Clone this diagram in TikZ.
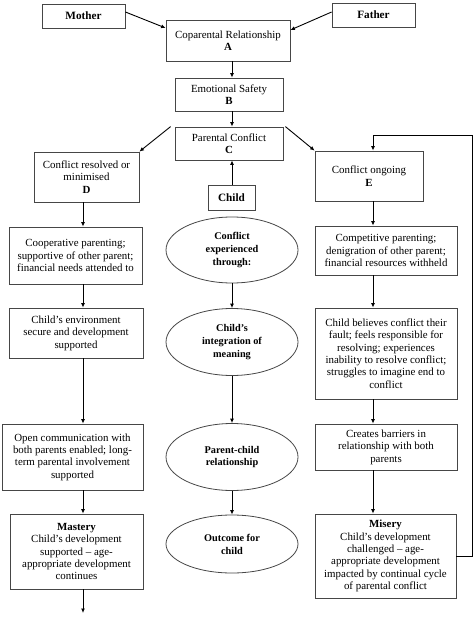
\documentclass[tikz,border=0pt]{standalone}
\usepackage{fontspec}
\setmainfont{Liberation Serif}
\usepackage{tikz}
\usetikzlibrary{arrows.meta,calc,shapes.geometric}
\definecolor{boxline}{RGB}{70,70,70}

\begin{document}
\begin{tikzpicture}[
      x=1pt, y=-1pt,
      font=\fontsize{10.9}{12.4}\selectfont,
      box/.style={draw=boxline, line width=0.8pt, align=center, fill=white,
        inner sep=0pt},
      tag/.style={box, font=\fontsize{11.2}{12.4}\selectfont\bfseries},
      oval/.style={ellipse, draw=boxline, line width=0.8pt, align=center,
        inner sep=0pt, font=\fontsize{10.3}{12.9}\selectfont\bfseries},
      arr/.style={-{Latex[length=4.5pt,width=4pt]}, line width=0.9pt}
    ]
    \useasboundingbox (0,0) rectangle (474,617);
    \coordinate (lcol) at (83,0);
    \coordinate (ccol) at (232,0);
    \coordinate (rcol) at (373,0);

    % parents and top chain
    \node[tag, minimum width=83pt, minimum height=24pt] (mother) at (83.5,16) {Mother};
    \node[tag, minimum width=83pt, minimum height=24pt] (father) at (373.5,15) {Father};
    \node[box, minimum width=124pt, minimum height=41pt] (coparent) at (228,40.5)
      {Coparental Relationship\\\textbf{A}};
    \node[box, minimum width=108pt, minimum height=33pt] (safety) at (229,94.5)
      {Emotional Safety\\\textbf{B}};
    \node[box, minimum width=108pt, minimum height=33pt] (conflict) at (229,143.5)
      {Parental Conflict\\\textbf{C}};
    \draw[arr] ([yshift=4pt]mother.east) -- ([yshift=12.5pt]coparent.west);
    \draw[arr] ([yshift=3pt]father.west) -- ([yshift=10.5pt]coparent.east);
    \draw[arr] (coparent.south -| ccol) -- (safety.north -| ccol);
    \draw[arr] (safety.south -| ccol) -- (conflict.north -| ccol);

    % branches
    \node[box, minimum width=105pt, minimum height=50pt] (resolved) at (86.5,177)
      {Conflict resolved or\\minimised\\\textbf{D}};
    \node[box, minimum width=108pt, minimum height=50pt] (ongoing) at (369,176)
      {Conflict ongoing\\\textbf{E}};
    \node[tag, minimum width=47pt, minimum height=25pt] (child) at (231.5,197.5) {Child};
    \draw[arr] ([xshift=-4pt]conflict.north west) -- (resolved.north east);
    \draw[arr] ([xshift=2pt]conflict.north east) -- (ongoing.north west);
    \draw[arr] (child.north -| ccol) -- (conflict.south -| ccol);

    % left column
    \node[box, minimum width=133pt, minimum height=57pt] (coop) at (75.5,255.5)
      {Cooperative parenting;\\supportive of other parent;\\financial needs attended to};
    \node[box, minimum width=134pt, minimum height=50pt] (secure) at (76,333)
      {Child’s environment\\secure and development\\supported};
    \node[box, minimum width=141pt, minimum height=66pt] (opencomm) at (72.5,457)
      {Open communication with\\both parents enabled; long-\\term parental involvement\\supported};
    \node[box, minimum width=133pt, minimum height=75pt] (mastery) at (76.5,551.5)
      {\textbf{Mastery}\\Child’s development\\supported -- age-\\appropriate development\\continues};
    \coordinate (lend) at (83,613);
    \draw[arr] (resolved.south -| lcol) -- (coop.north -| lcol);
    \draw[arr] (coop.south -| lcol) -- (secure.north -| lcol);
    \draw[arr] (secure.south -| lcol) -- (opencomm.north -| lcol);
    \draw[arr] (opencomm.south -| lcol) -- (mastery.north -| lcol);
    \draw[arr] (mastery.south -| lcol) -- (lend);

    % centre column
    \node[oval, minimum width=132pt, minimum height=66pt] (experienced) at (232,250)
      {Conflict\\experienced\\through:};
    \node[oval, minimum width=132pt, minimum height=67pt] (meaning) at (232,342)
      {Child’s\\integration of\\meaning};
    \node[oval, minimum width=132pt, minimum height=67pt] (parentchild) at (232,457)
      {Parent-child\\relationship};
    \node[oval, minimum width=132pt, minimum height=58pt] (outcome) at (232,544)
      {Outcome for\\child};
    \draw[arr] (experienced.south) -- (meaning.north);
    \draw[arr] (meaning.south) -- (parentchild.north);
    \draw[arr] (parentchild.south) -- (outcome.north);

    % right column
    \node[box, minimum width=142pt, minimum height=49pt] (compet) at (386,250.5)
      {Competitive parenting;\\denigration of other parent;\\financial resources withheld};
    \node[box, minimum width=142pt, minimum height=91pt] (believes) at (386,353.5)
      {Child believes conflict their\\fault; feels responsible for\\resolving; experiences\\inability to resolve conflict;\\struggles to imagine end to\\conflict};
    \node[box, minimum width=142pt, minimum height=46pt] (barriers) at (386,447)
      {Creates barriers in\\relationship with both\\parents};
    \node[box, minimum width=141pt, minimum height=84pt] (misery) at (385.5,556)
      {\textbf{Misery}\\Child’s development\\challenged -- age-\\appropriate development\\impacted by continual cycle\\of parental conflict};
    \coordinate (loop) at (472,135);
    \draw[arr] (ongoing.south -| rcol) -- (compet.north -| rcol);
    \draw[arr] (compet.south -| rcol) -- (believes.north -| rcol);
    \draw[arr] (believes.south -| rcol) -- (barriers.north -| rcol);
    \draw[arr] (barriers.south -| rcol) -- (misery.north -| rcol);
    \draw[arr] (misery.east) -| (loop) -| (ongoing.north -| rcol);
  \end{tikzpicture}
\end{document}
